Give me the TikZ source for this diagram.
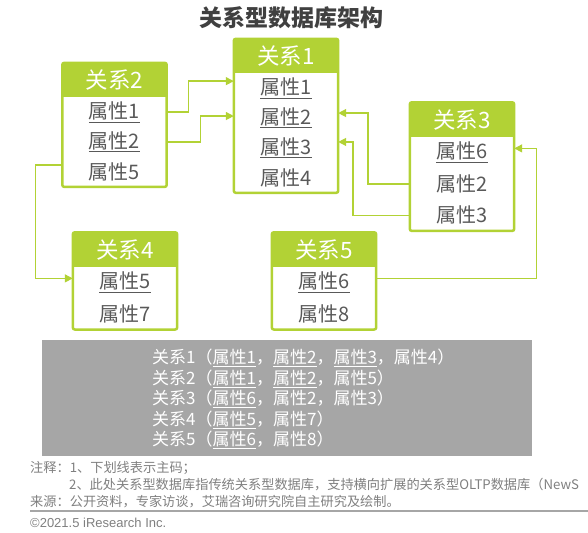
\documentclass[tikz,border=0pt]{standalone}
\usepackage{fontspec}
\setmainfont{Noto Sans CJK SC}
\newfontfamily\latinfont{Liberation Sans}
\usetikzlibrary{arrows.meta, positioning, fit}
\definecolor{boxgreen}{HTML}{B2D235}
\definecolor{txtgray}{HTML}{595959}
\definecolor{titlegray}{HTML}{404040}
\definecolor{notegray}{HTML}{7F7F7F}
\definecolor{panelgray}{HTML}{A6A6A6}
\newcommand{\pk}[1]{\underline{#1}}

\begin{document}
\begin{tikzpicture}[
    x=1pt, y=-1pt,
    rhead/.style={fill=boxgreen, text=white, minimum width=104pt, minimum height=34pt, inner sep=0pt, font=\fontsize{22.5}{22.5}\selectfont},
    attr/.style={minimum width=104pt, minimum height=#1, inner sep=0pt, text=txtgray, font=\fontsize{20}{20}\selectfont},
    attr/.default=29.5pt,
    frame/.style={draw=boxgreen, line width=2.5pt, rounded corners=2pt, inner sep=0pt},
    link/.style={draw=boxgreen, line width=1.4pt, -{Triangle[length=8pt, width=8pt]}},
    note/.style={anchor=west, inner sep=0pt, text=notegray, font=\fontsize{13.2}{13.2}\selectfont},
]
\useasboundingbox (0,0) rectangle (588,532);

% title
\node[text=titlegray, font=\fontsize{23}{23}\selectfont\bfseries] (title) at (291,18) {关系型数据库架构};

% 关系1
\node[rhead] (r1) at (286,56) {关系1};
\node[attr, below=0pt of r1] (r1a) {\pk{属性1}};
\node[attr, below=0pt of r1a] (r1b) {\pk{属性2}};
\node[attr, below=0pt of r1b] (r1c) {\pk{属性3}};
\node[attr, below=0pt of r1c] (r1d) {属性4};
\node[frame, fit=(r1)(r1d)] (r1box) {};

% 关系2
\node[rhead] (r2) at (114.5,80) {关系2};
\node[attr, below=0pt of r2] (r2a) {\pk{属性1}};
\node[attr, below=0pt of r2a] (r2b) {\pk{属性2}};
\node[attr, below=0pt of r2b] (r2c) {属性5};
\node[frame, fit=(r2)(r2c)] (r2box) {};

% 关系3
\node[rhead] (r3) at (462,119.5) {关系3};
\node[attr=31pt, below=0pt of r3] (r3a) {\pk{属性6}};
\node[attr=31pt, below=0pt of r3a] (r3b) {属性2};
\node[attr=31pt, below=0pt of r3b] (r3c) {属性3};
\node[frame, fit=(r3)(r3c)] (r3box) {};

% 关系4
\node[rhead] (r4) at (125,249.5) {关系4};
\node[attr=31pt, below=0pt of r4] (r4a) {\pk{属性5}};
\node[attr=31pt, below=0pt of r4a] (r4b) {属性7};
\node[frame, fit=(r4)(r4b)] (r4box) {};

% 关系5
\node[rhead] (r5) at (324,249.5) {关系5};
\node[attr=31pt, below=0pt of r5] (r5a) {\pk{属性6}};
\node[attr=31pt, below=0pt of r5a] (r5b) {属性8};
\node[frame, fit=(r5)(r5b)] (r5box) {};

% foreign keys
\draw[link] (r2a.east) -- ++(22,0) |- ([yshift=7pt]r1a.west);
\draw[link] (r2b.east) -- ++(34,0) |- ([yshift=2pt]r1b.west);
\draw[link] ([yshift=7pt]r2c.west) -- ++(-27,0) |- ([yshift=4pt]r4a.west);
\draw[link] (r3b.west) -- ++(-42,0) |- ([yshift=5pt]r1b.east);
\draw[link] (r3c.west) -- ++(-57,0) |- ([yshift=6pt]r1c.east);
\draw[link] ([yshift=4pt]r5a.east) -- ++(160,0) |- ([yshift=4pt]r3a.east);

% summary panel
\node[fill=panelgray, minimum width=490pt, minimum height=116pt, inner sep=0pt] (panel) at (287,398) {};
\node[anchor=west, inner sep=0pt, text=white, align=left, font=\fontsize{17}{20.5}\selectfont] (paneltext) at (152,399) {%
关系1（\pk{属性1}，\pk{属性2}，\pk{属性3}，属性4）\\
关系2（\pk{属性1}，\pk{属性2}，属性5）\\
关系3（\pk{属性6}，属性2，属性3）\\
关系4（\pk{属性5}，属性7）\\
关系5（\pk{属性6}，属性8）};

% notes
\node[note] (note1) at (30,468) {注释：1、下划线表示主码；};
\node[note] (note2) at (69,485) {2、此处关系型数据库指传统关系型数据库，支持横向扩展的关系型OLTP数据库（NewS};
\node[note] (source) at (30,502) {来源：公开资料，专家访谈，艾瑞咨询研究院自主研究及绘制。};
\draw[draw=panelgray, line width=1.5pt] (30,511) -- (588,511);
\node[note, font=\latinfont\fontsize{13}{13}\selectfont] (copy) at (30,523) {©2021.5 iResearch Inc.};

\end{tikzpicture}
\end{document}
